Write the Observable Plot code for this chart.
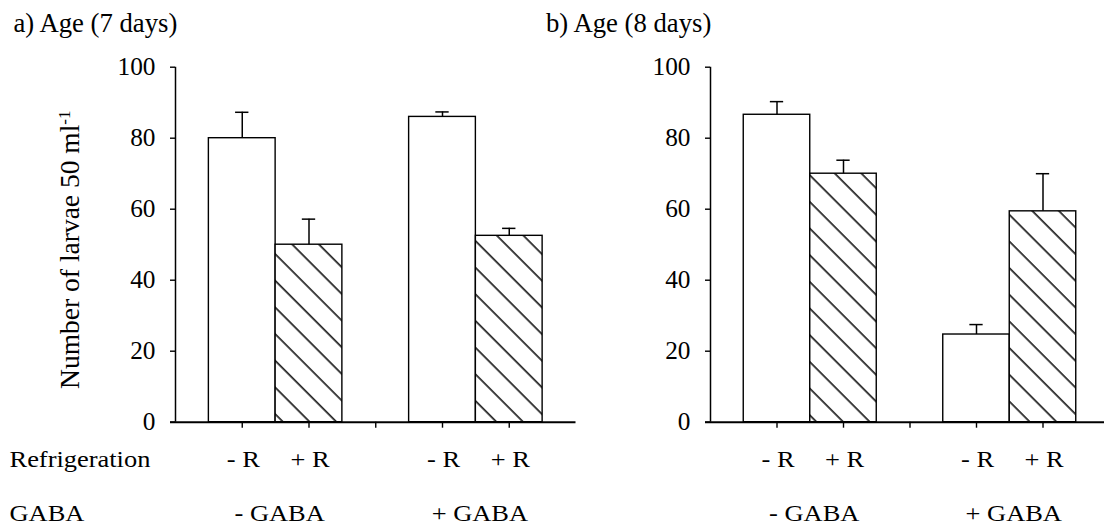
<!DOCTYPE html>
<html><head><meta charset="utf-8">
<script src="https://cdn.jsdelivr.net/npm/d3@7"></script>
<script src="https://cdn.jsdelivr.net/npm/@observablehq/plot@0.6"></script>
<style>
html,body{margin:0;padding:0;background:#fff;}
#wrap{position:relative;width:1104px;height:527px;overflow:hidden;background:#fff;}
#wrap svg{position:absolute;left:0;top:0;}
#wrap svg text{font-family:'Liberation Serif','Times New Roman',serif !important;}
</style></head><body><div id="wrap"></div>
<script>
// ---- data ----
const refrigeration = ["- R", "+ R", "- R", "+ R"];
const gabaGroups = ["- GABA", "+ GABA"];
const yTicks = [0, 20, 40, 60, 80, 100];
const meansA = [80, 50, 86, 52.5];      // a) 7 days
const errorsA = [7.3, 7.2, 1.4, 2.1];
const meansB = [86.6, 70, 24.7, 59.4];  // b) 8 days
const errorsB = [3.7, 3.8, 2.8, 10.6];
const titles = ["a) Age (7 days)", "b) Age (8 days)"];
const yLabel = "Number of larvae 50 ml";
const yLabelSup = "-1";
const rowLabels = ["Refrigeration", "GABA"];

const FONT = "'Liberation Serif', 'Times New Roman', serif";
const W = 1104, H = 527, MT = 66.7, MB = 105.3;
const T = {fontFamily: FONT, fontSize: 26.7, fill: "black"};
const B = {fontFamily: FONT, fontSize: 23, fill: "black"};
const wideTexts = new Set([...refrigeration, ...gabaGroups, ...rowLabels]);

function rows(means, errs) {
  return means.map((m, i) => ({
    slot: Math.floor(i / 2) * 3 + (i % 2) + 1,
    ref: refrigeration[i],
    refrig: i % 2 === 1,
    mean: m,
    err: errs[i]
  }));
}

function build(cfg) {
  const data = rows(cfg.means, cfg.errs);
  const {marginLeft, range, pid, first, title} = cfg;
  const extra = first ? [
    Plot.text([rowLabels[0]], {...B, text: d => d, frameAnchor: "bottom-left", textAnchor: "start", lineAnchor: "bottom", dx: 9 - marginLeft, dy: 45}),
    Plot.text([rowLabels[1]], {...B, text: d => d, frameAnchor: "bottom-left", textAnchor: "start", lineAnchor: "bottom", dx: 9 - marginLeft, dy: 98.3}),
    Plot.text([yLabel], {...T, fontSize: 27.5, text: d => d, frameAnchor: "left", textAnchor: "middle", rotate: -90, lineAnchor: "bottom", dx: 78.5 - marginLeft, dy: 5})
  ] : [];
  const marks = [
    Plot.rectY(data.filter(d => !d.refrig), {x1: d => d.slot - 0.5, x2: d => d.slot + 0.5, y1: 0, y2: "mean", fill: "white", stroke: "black", strokeWidth: 1.4}),
    Plot.rectY(data.filter(d => d.refrig), {x1: d => d.slot - 0.5, x2: d => d.slot + 0.5, y1: 0, y2: "mean", fill: `url(#${pid})`, stroke: "black", strokeWidth: 1.4}),
    Plot.ruleX(data, {x: "slot", y1: "mean", y2: d => d.mean + d.err, stroke: "black", strokeWidth: 1.5}),
    Plot.ruleY(data, {y: d => d.mean + d.err, x1: d => d.slot - 0.1, x2: d => d.slot + 0.1, stroke: "black", strokeWidth: 1.5}),
    Plot.ruleX([0], {y1: 0, y2: 100, stroke: "black", strokeWidth: 1.5}),
    Plot.ruleY([0], {insetLeft: -5, stroke: "black", strokeWidth: 2}),
    Plot.axisY({ticks: yTicks, tickSize: 5, tickPadding: 15, label: null, strokeWidth: 1.4, fill: "black", fontFamily: FONT, fontSize: 25.3}),
    Plot.axisX({ticks: [1, 2, 3, 4, 5], tickSize: 6, tickFormat: () => "", label: null, strokeWidth: 1.4}),
    Plot.text(data, {...B, x: "slot", text: "ref", frameAnchor: "bottom", dy: 45, dx: 1, lineAnchor: "bottom"}),
    Plot.text(gabaGroups, {...B, x: (d, i) => i * 3 + 1.5, text: d => d, frameAnchor: "bottom", dy: 98.3, dx: 4, lineAnchor: "bottom"}),
    Plot.text([title], {...T, text: d => d, frameAnchor: "top-left", textAnchor: "start", lineAnchor: "bottom", dx: (first ? 13 : 545.5) - marginLeft, dy: 31.7 - MT}),
    ...extra
  ];
  const svg = Plot.plot({
    width: W, height: H,
    marginTop: MT, marginBottom: MB, marginLeft, marginRight: first ? W - range[1] : 0,
    x: {domain: [0, 6], range},
    y: {domain: [0, 100]},
    style: {fontFamily: FONT, fontSize: "26px", background: "transparent", color: "black", overflow: "visible"},
    marks
  });
  // hatch pattern
  const ns = "http://www.w3.org/2000/svg";
  const defs = document.createElementNS(ns, "defs");
  const pat = document.createElementNS(ns, "pattern");
  pat.setAttribute("id", pid);
  pat.setAttribute("patternUnits", "userSpaceOnUse");
  pat.setAttribute("width", "18.86");
  pat.setAttribute("height", "18.86");
  pat.setAttribute("patternTransform", "rotate(-45)");
  const bg = document.createElementNS(ns, "rect");
  bg.setAttribute("width", "18.86"); bg.setAttribute("height", "18.86"); bg.setAttribute("fill", "white");
  const ln = document.createElementNS(ns, "line");
  ln.setAttribute("x1", "15"); ln.setAttribute("x2", "15");
  ln.setAttribute("y1", "-2"); ln.setAttribute("y2", "21");
  ln.setAttribute("stroke", "black"); ln.setAttribute("stroke-width", "1.5");
  pat.appendChild(bg); pat.appendChild(ln); defs.appendChild(pat);
  svg.insertBefore(defs, svg.firstChild);
  svg.querySelectorAll("text").forEach(t => {
    // superscript on y label
    if (t.textContent === yLabel) {
      const ts = document.createElementNS(ns, "tspan");
      ts.setAttribute("dy", "-0.55em");
      ts.setAttribute("font-size", "17px");
      ts.textContent = yLabelSup;
      t.appendChild(ts);
    }
    // the category labels of the reference are set wider than they are tall
    if (wideTexts.has(t.textContent)) {
      const tr = t.getAttribute("transform") || "";
      t.setAttribute("transform", (tr + " scale(1.15,1)").trim());
    }
  });
  return svg;
}

const wrap = document.getElementById("wrap");
wrap.appendChild(build({means: meansA, errs: errorsA, title: titles[0], marginLeft: 175, range: [175, 575.5], pid: "hatchA", first: true}));
wrap.appendChild(build({means: meansB, errs: errorsB, title: titles[1], marginLeft: 710, range: [710, 1109], pid: "hatchB", first: false}));
</script>
</body></html>
